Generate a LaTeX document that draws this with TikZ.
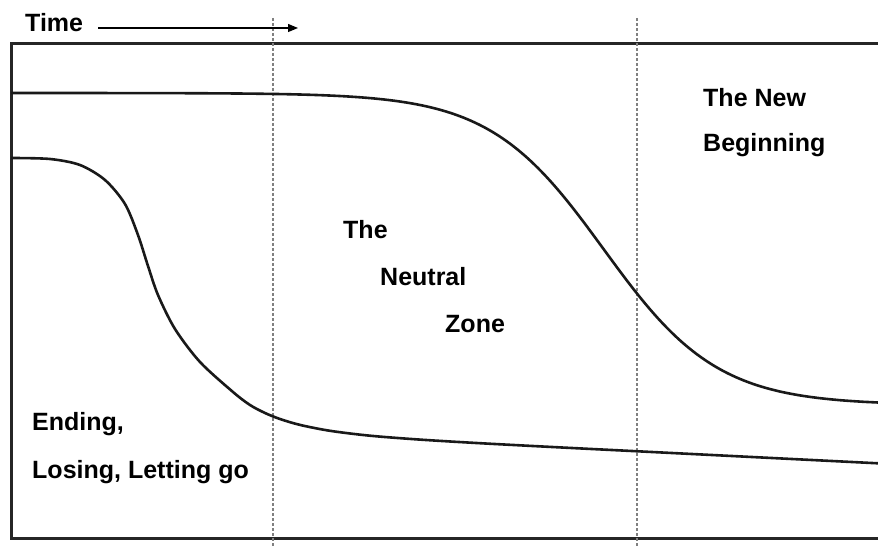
\documentclass[tikz,border=0pt]{standalone}
\usepackage{fontspec}
\setmainfont{Liberation Sans}
\usetikzlibrary{arrows.meta}

\begin{document}
\begin{tikzpicture}[x=1pt, y=-1pt,
			lbl/.style={anchor=base west, inner sep=0pt, font=\bfseries\fontsize{25}{30}\selectfont},
			frame/.style={line width=3pt, black!85},
			phase/.style={line width=2.6pt, black!90, line join=round},
			split/.style={gray, line width=1.3pt, dash pattern=on 3pt off 2pt}]
			\useasboundingbox (0,0) rectangle (878,548);
			% box, open to the right
			\draw[frame] (878,44) -- (11,44) -- (11,538) -- (878,538);
			% phase borders
			\draw[split] (273,18) -- (273,548);
			\draw[split] (637,18) -- (637,548);
			% time axis
			\node[lbl] (time) at (25,32) {Time};
			\coordinate (t0) at (98,28);
			\coordinate (t1) at (298,28);
			\draw[line width=1.2pt, -{Triangle[length=10pt, width=8pt]}] (t0) -- (t1);
			% curves
			\draw[phase] (11,93) -- (100,93)
				-- plot[domain=100:878, samples=160, smooth] (\x, {93+312/(1+exp(-(\x-603.5)/57))});
			\draw[phase] plot[smooth, tension=0.5] coordinates {(11,158) (50,159) (80,165) (105,180) (125,204)
				(138,235) (148,266) (158,295) (175,329) (200,362) (233,392) (250,405) (265,413) (280,419)
				(300,424.9) (330,430.8) (370,435.7) (420,439.6) (480,443.2) (560,447.4) (660,452.4)
				(780,458.4) (878,463.3)};
			% labels
			\node[lbl] (newa) at (703,107) {The New};
			\node[lbl] (newb) at (703,152) {Beginning};
			\node[lbl] (neua) at (343,238) {The};
			\node[lbl] (neub) at (380,285) {Neutral};
			\node[lbl] (neuc) at (445,332) {Zone};
			\node[lbl] (enda) at (32,430) {Ending,};
			\node[lbl] (endb) at (32,478) {Losing, Letting go};
		\end{tikzpicture}
\end{document}
